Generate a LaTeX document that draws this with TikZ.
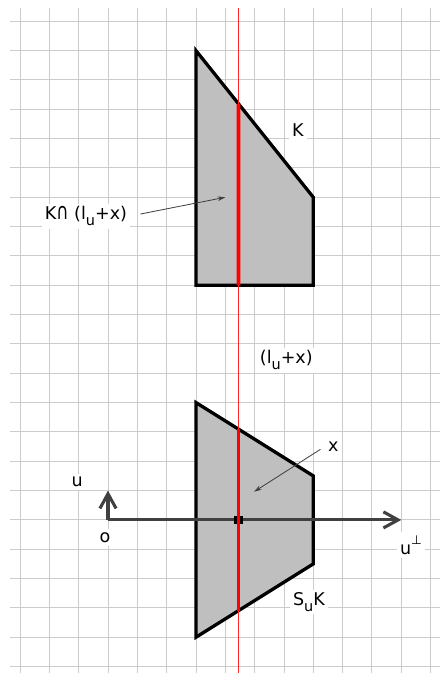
\documentclass[tikz,border=0pt]{standalone}
\usepackage{fontspec}
\setmainfont{DejaVu Sans}
\usetikzlibrary{arrows.meta,calc}
\newcommand{\subu}{\raisebox{-0.55ex}{\fontsize{14}{14}\selectfont u}}
\newcommand{\tallcap}{\scalebox{0.95}[1.3]{∩}}

\begin{document}
\begin{tikzpicture}[
    gridline/.style={draw=gray!40, line width=0.9pt},
    body/.style={draw=black, fill=lightgray, line width=3.2pt},
    fibre/.style={red, line width=3.6pt},
    axis/.style={draw=darkgray, line width=3pt, -{Straight Barb[length=5mm,width=5.5mm]}},
    pointer/.style={draw=darkgray, line width=0.8pt, -{Stealth[length=2.6mm,width=1.6mm]}},
    label/.style={fill=white, inner sep=3pt, font=\fontsize{17}{20}\selectfont}
]
    \useasboundingbox (-0.682,0.726) rectangle (14.32,-22.22);

    % Draw the squared paper
    \foreach \i in {0,...,14}
        \draw[gridline] (\i,0.453) -- (\i,-22.22);
    \foreach \j in {0,...,22}
        \draw[gridline] (-0.34,-\j) -- (14.32,-\j);

    % Define the points of the body K
    \coordinate (K1) at (6,-1);
    \coordinate (K2) at (6,-9);
    \coordinate (K3) at (10,-9);
    \coordinate (K4) at (10,-6);

    % Define the points of the symmetral S_uK
    \coordinate (S1) at (6,-13);
    \coordinate (S2) at (10,-15.5);
    \coordinate (S3) at (10,-18.5);
    \coordinate (S4) at (6,-21);

    % Draw both bodies
    \draw[body] (K1) -- (K2) -- (K3) -- (K4) -- cycle;
    \draw[body] (S1) -- (S2) -- (S3) -- (S4) -- cycle;

    % Draw the line l_u + x
    \coordinate (ltop) at (7.45,0.453);
    \coordinate (lbot) at (7.45,-22.22);
    \draw[red!85, line width=0.9pt] (ltop) -- (lbot);

    % Draw the axes at o
    \coordinate (O) at (3,-17);
    \coordinate (uperp) at (13,-17);
    \coordinate (uup) at (3,-16);
    \draw[axis] (O) -- (uperp);
    \draw[axis] (O) -- (uup);
    \node[fill=black, minimum width=0.29cm, minimum height=0.26cm, inner sep=0pt] (foot) at (7.45,-17) {};

    % Draw the chords
    \draw[fibre] ($(K1)!0.3625!(K4)$) -- (7.45,-9);
    \draw[fibre] ($(S1)!0.3625!(S2)$) -- ($(S4)!0.3625!(S3)$);

    % Place the labels
    \node[label] (lblK) at (9.47,-3.71) {K};
    \node[label] (lblcap) at (2.25,-6.64) {K\tallcap{} (l\subu+x)};
    \node[label] (lblline) at (9.08,-11.55) {(l\subu+x)};
    \node[label] (lblx) at (10.68,-14.5) {x};
    \node[label] (lblu) at (1.95,-15.7) {u};
    \node[label] (lblo) at (2.9,-17.6) {o};
    \node[label] (lblperp) at (13.33,-17.86) {u\raisebox{1.1ex}{\fontsize{12}{12}\selectfont ⊥}};
    \node[label] (lblS) at (9.85,-19.8) {S\subu K};

    % Draw the pointers
    \coordinate (capend) at (7,-6);
    \coordinate (xend) at (7.98,-16.04);
    \draw[pointer, shorten <=10pt] (lblcap.east) -- (capend);
    \draw[pointer, shorten <=5pt] (lblx.west) -- (xend);
\end{tikzpicture}
\end{document}
